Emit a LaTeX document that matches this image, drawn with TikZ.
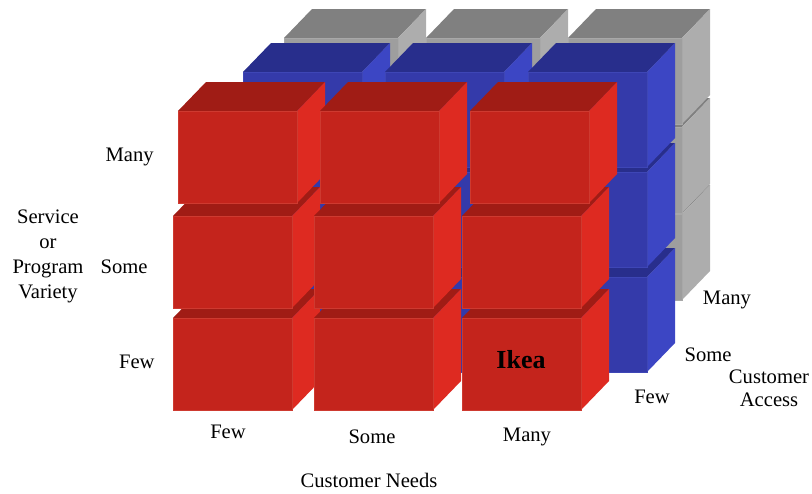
\documentclass[tikz,border=0pt]{standalone}
\usepackage{fontspec}
\setmainfont{Liberation Serif}
\usetikzlibrary{positioning}

\definecolor{redfront}{HTML}{C4241C}
\definecolor{redside}{HTML}{DE2A21}
\definecolor{redtop}{HTML}{A01C15}
\definecolor{rededge}{HTML}{CE3A30}
\definecolor{bluefront}{HTML}{343AAA}
\definecolor{blueside}{HTML}{3C46C4}
\definecolor{bluetop}{HTML}{282E8C}
\definecolor{blueedge}{HTML}{3E46B6}
\definecolor{grayfront}{HTML}{9E9E9E}
\definecolor{grayside}{HTML}{ADADAD}
\definecolor{graytop}{HTML}{808080}
\definecolor{grayedge}{HTML}{A8A8A8}

\tikzset{%
   lbl/.style={
      font=\fontsize{10.3}{12.5}\selectfont,
      inner sep=0pt
   },
   title/.style={
      lbl,
      align=center
   },
   cell/.style={
      font=\fontsize{13}{15}\selectfont\bfseries,
      inner sep=0pt
   },
}

% x, y (front top left), width, height, colour set
\newcommand{\drawcube}[5]{%
   \fill[#5top] (#1,#2) -- ++(28,-29) -- ++(#3,0) -- ++(-28,29) -- cycle;
   \fill[#5side] (#1+#3,#2) -- ++(28,-29) -- ++(0,#4) -- ++(-28,29) -- cycle;
   \filldraw[fill=#5front, draw=#5edge, line width=.5pt] (#1,#2) rectangle ++(#3,#4);
}

\begin{document}
\begin{tikzpicture}[x=0.5pt, y=-0.5pt]
   \useasboundingbox (0,0) rectangle (812,493);
   % back layer
   \foreach \y in {214,127,38}
      \foreach \x in {284,426,568}
         \drawcube{\x}{\y}{114}{86}{gray};
   % middle layer
   \foreach \y in {277,172,72}
      \foreach \x in {243,385,528}
         \drawcube{\x}{\y}{119}{95}{blue};
   % front layer
   \foreach \y/\xa/\xb/\xc in {318/173/314/462, 216/173/314/462, 111/178/320/470}
      \foreach \x in {\xa,\xb,\xc}
         \drawcube{\x}{\y}{119}{92}{red};

   \node[cell] (ikea) at (521,360) {Ikea};

   \node[lbl, anchor=east] (vmany) at (154,157) {Many};
   \node[lbl, anchor=east] (vsome) at (148,267) {Some};
   \node[lbl, anchor=east] (vfew) at (155,362) {Few};
   \node[title] (variety) at (48,256) {Service\\or\\Program\\Variety};

   \node[lbl] (nfew) at (228,432) {Few};
   \node[lbl] (nsome) at (372,437) {Some};
   \node[lbl] (nmany) at (527,437) {Many};
   \node[lbl] (needs) at (369,480) {Customer Needs};

   \node[lbl] (amany) at (727,300) {Many};
   \node[lbl] (asome) at (708,355) {Some};
   \node[lbl] (afew) at (652,397) {Few};
   \node[title] (access) at (769,388) {Customer\\[-1pt]Access};
\end{tikzpicture}
\end{document}
